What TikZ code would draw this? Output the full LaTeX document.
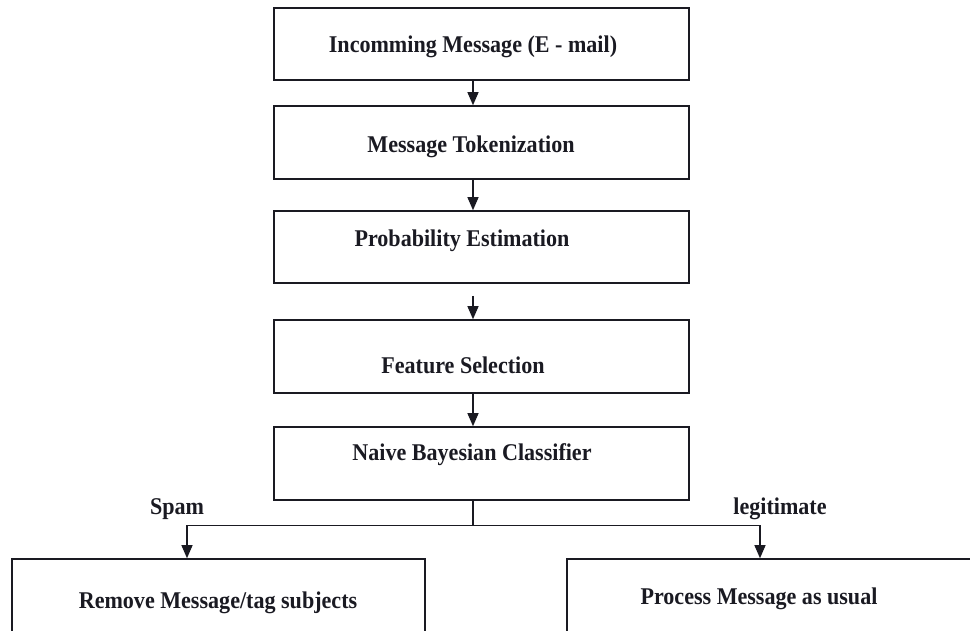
\documentclass[tikz,border=0pt]{standalone}
\usepackage{fontspec}
\setmainfont{Liberation Serif}[FakeStretch=0.92]
\usetikzlibrary{arrows.meta}
\definecolor{ink}{HTML}{1A1A22}
\begin{document}
\begin{tikzpicture}[x=1pt,y=-1pt,
  stagebox/.style={draw=ink,line width=1.6pt,rectangle,inner sep=0pt},
  caption/.style={text=ink,font=\fontsize{24}{28}\selectfont\bfseries,inner sep=0pt,anchor=base},
  flow/.style={draw=ink,line width=1.2pt,-{Triangle[length=13pt,width=11pt]}},
  wire/.style={draw=ink,line width=1.2pt}]
\useasboundingbox (0,0) rectangle (970,630);
\clip (0,0) rectangle (970,630);
\fill[white] (0,0) rectangle (970,630);

% pipeline stages
\node[stagebox,minimum width=415pt,minimum height=72pt] (b1) at (481.5,44) {};
\node[stagebox,minimum width=415pt,minimum height=73pt] (b2) at (481.5,142.5) {};
\node[stagebox,minimum width=415pt,minimum height=72pt] (b3) at (481.5,247) {};
\node[stagebox,minimum width=415pt,minimum height=73pt] (b4) at (481.5,356.5) {};
\node[stagebox,minimum width=415pt,minimum height=73pt] (b5) at (481.5,463.5) {};
\node[stagebox,minimum width=413pt,minimum height=162pt] (b6) at (218.5,640) {};
\node[stagebox,minimum width=433pt,minimum height=162pt] (b7) at (783.5,640) {};

% stage captions
\node[caption] (t1) at (473,52) {Incomming Message (E - mail)};
\node[caption] (t2) at (471,152) {Message Tokenization};
\node[caption] (t3) at (462,246) {Probability Estimation};
\node[caption] (t4) at (463,373) {Feature Selection};
\node[caption] (t5) at (472,460) {Naive Bayesian Classifier};
\node[caption] (t6) at (218,608) {Remove Message/tag subjects};
\node[caption] (t7) at (759,604) {Process Message as usual};
\node[caption] (spam) at (177,514) {Spam};
\node[caption] (legit) at (780,514) {legitimate};

% connectors
\draw[flow] ([xshift=-8.5pt]b1.south) -- ([xshift=-8.5pt]b2.north);
\draw[flow] ([xshift=-8.5pt]b2.south) -- ([xshift=-8.5pt]b3.north);
\draw[flow] ([xshift=-8.5pt,yshift=-12pt]b3.south) -- ([xshift=-8.5pt]b4.north);
\draw[flow] ([xshift=-8.5pt]b4.south) -- ([xshift=-8.5pt]b5.north);
\draw[wire] ([xshift=-8.5pt]b5.south) -- ++(0,25) coordinate (split);
\draw[flow] (split) -| ([xshift=-31.5pt]b6.north);
\draw[flow] (split) -| ([xshift=-23.5pt]b7.north);
\end{tikzpicture}
\end{document}
